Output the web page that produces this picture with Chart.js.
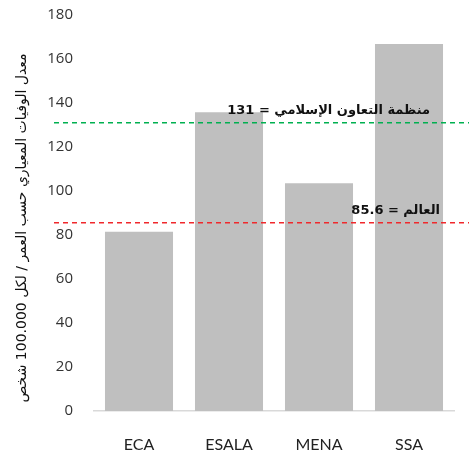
<!DOCTYPE html>
<html>
<head>
<meta charset="utf-8">
<script src="https://cdn.jsdelivr.net/npm/chart.js@4"></script>
<style>
  html, body { margin: 0; padding: 0; background: #ffffff; }
  canvas { display: block; }
</style>
</head>
<body>
<canvas id="chart" dir="rtl" width="469" height="456"></canvas>
<script>
// Regions and their age-standardised death rates
const categories = ['ECA', 'ESALA', 'MENA', 'SSA'];
const rates = [81.5, 135.8, 103.5, 166.8];

// Benchmark lines: OIC average and world average
const benchmarkValues = [131, 85.6];
const benchmarkLabels = ['منظمة التعاون الإسلامي = 131', 'العالم = 85.6'];
const benchmarkColors = ['#00b050', '#f0282c'];

// Y axis range and title
const yMin = 0;
const yMax = 180;
const yStep = 20;
const yTitle = 'معدل الوفيات المعياري حسب العمر / لكل 100.000 شخص';

const ARABIC_FONT = '"DejaVu Sans", "Noto Sans", sans-serif';

// Dashed benchmark lines with their captions, placed through the y scale
const benchmarkPlugin = {
  id: 'benchmarks',
  afterDatasetsDraw(chart) {
    const { ctx, chartArea, scales } = chart;
    const labelRightOffsets = [24, 14];
    ctx.save();
    benchmarkValues.forEach((v, i) => {
      const y = scales.y.getPixelForValue(v);
      ctx.beginPath();
      ctx.setLineDash([5, 4]);
      ctx.lineWidth = 1.5;
      ctx.strokeStyle = benchmarkColors[i];
      ctx.moveTo(chartArea.left - 40, y);
      ctx.lineTo(chart.width, y);
      ctx.stroke();

      ctx.setLineDash([]);
      ctx.direction = 'rtl';
      ctx.textAlign = 'right';
      ctx.textBaseline = 'alphabetic';
      ctx.fillStyle = '#111111';
      ctx.font = 'bold 13px ' + ARABIC_FONT;
      ctx.fillText(benchmarkLabels[i], chartArea.right - labelRightOffsets[i], y - 9);
    });
    ctx.restore();
  }
};

// Rotated y-axis title, slightly below the vertical middle of the plot
const yTitlePlugin = {
  id: 'yTitle',
  afterDraw(chart) {
    const { ctx, chartArea } = chart;
    ctx.save();
    ctx.translate(22, (chartArea.top + chartArea.bottom) / 2 + 15);
    ctx.rotate(-Math.PI / 2);
    ctx.direction = 'rtl';
    ctx.textAlign = 'center';
    ctx.textBaseline = 'middle';
    ctx.fillStyle = '#111111';
    ctx.font = '14px ' + ARABIC_FONT;
    ctx.fillText(yTitle, 0, 0);
    ctx.restore();
  }
};

new Chart(document.getElementById('chart'), {
  type: 'bar',
  data: {
    labels: categories,
    datasets: [{
      data: rates,
      backgroundColor: '#bfbfbf',
      borderWidth: 0,
      barPercentage: 0.756,
      categoryPercentage: 1.0
    }]
  },
  options: {
    responsive: false,
    animation: false,
    layout: { padding: { top: 15, right: 15, left: 0, bottom: 0 } },
    plugins: {
      legend: { display: false },
      tooltip: { enabled: false }
    },
    scales: {
      x: {
        grid: { display: false, drawTicks: false },
        border: { display: true, color: '#d9d9d9', width: 1.5 },
        ticks: {
          color: '#222222',
          font: { family: 'Lato, "Open Sans", sans-serif', size: 16 },
          padding: 24
        },
        afterFit(scale) { scale.height = 45; }
      },
      y: {
        min: yMin,
        max: yMax,
        grid: { display: false, drawTicks: false },
        border: { display: false },
        ticks: {
          stepSize: yStep,
          color: '#333333',
          font: { family: '"Open Sans", sans-serif', size: 15 },
          padding: 21
        },
        afterFit(scale) {
          scale.width = 94;
          scale.paddingTop = 8;
          scale.paddingBottom = 8;
        }
      }
    }
  },
  plugins: [benchmarkPlugin, yTitlePlugin]
});
</script>
</body>
</html>
